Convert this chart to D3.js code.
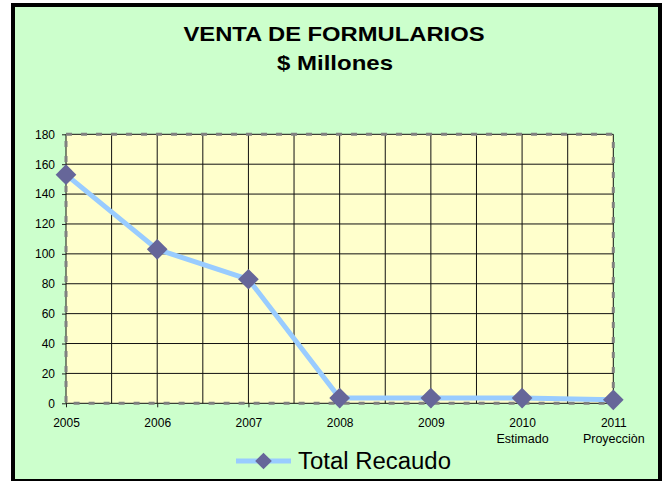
<!DOCTYPE html>
<html>
<head>
<meta charset="utf-8">
<script src="https://cdn.jsdelivr.net/npm/d3@7"></script>
<style>
  html, body { margin: 0; padding: 0; background: #ffffff; }
  svg { display: block; font-family: Arial, "Liberation Sans", sans-serif; }
</style>
</head>
<body>
<svg id="chart" width="663" height="481"></svg>
<script>
// ---- data ----
const categories = ["2005", "2006", "2007", "2008", "2009", "2010", "2011"];
const subLabels  = ["", "", "", "", "", "Estimado", "Proyecciòn"];
const totalRecaudo = [153, 103, 83, 3.5, 3.5, 3.5, 2.3];
const yTicks = [0, 20, 40, 60, 80, 100, 120, 140, 160, 180];
const titleLines = ["VENTA DE FORMULARIOS", "$ Millones"];
const seriesName = "Total Recaudo";

// ---- layout ----
const svg = d3.select("#chart");
const plot = { left: 66, right: 613.3, top: 134.3, bottom: 403.3 };

// chart frame
svg.append("rect")
  .attr("x", 13).attr("y", 5)
  .attr("width", 647).attr("height", 476)
  .attr("fill", "#CCFFCC")
  .attr("stroke", "#000").attr("stroke-width", 4);

// titles
svg.append("text").attr("x", 334).attr("y", 40.5)
  .attr("text-anchor", "middle").attr("font-size", 21).attr("font-weight", "bold")
  .attr("textLength", 301).attr("lengthAdjust", "spacingAndGlyphs")
  .text(titleLines[0]);
svg.append("text").attr("x", 335).attr("y", 69.5)
  .attr("text-anchor", "middle").attr("font-size", 21).attr("font-weight", "bold")
  .attr("textLength", 116).attr("lengthAdjust", "spacingAndGlyphs")
  .text(titleLines[1]);

// scales
const x = d3.scalePoint().domain(categories).range([plot.left, plot.right]).padding(0);
const y = d3.scaleLinear().domain([0, 180]).range([plot.bottom, plot.top]);

// plot background
svg.append("rect")
  .attr("x", plot.left).attr("y", plot.top)
  .attr("width", plot.right - plot.left).attr("height", plot.bottom - plot.top)
  .attr("fill", "#FFFFCC");

// vertical gridlines at categories and midpoints
const vPos = [];
categories.forEach((c, i) => {
  vPos.push(x(c));
  if (i < categories.length - 1) vPos.push((x(c) + x(categories[i + 1])) / 2);
});
svg.append("g").selectAll("line").data(vPos).join("line")
  .attr("x1", d => d).attr("x2", d => d)
  .attr("y1", plot.top).attr("y2", plot.bottom)
  .attr("stroke", "#111").attr("stroke-width", 1);

// horizontal gridlines
svg.append("g").selectAll("line").data(yTicks).join("line")
  .attr("x1", plot.left).attr("x2", plot.right)
  .attr("y1", d => y(d)).attr("y2", d => y(d))
  .attr("stroke", "#111").attr("stroke-width", 1);

// dashed plot border
svg.append("rect")
  .attr("x", plot.left).attr("y", plot.top)
  .attr("width", plot.right - plot.left).attr("height", plot.bottom - plot.top)
  .attr("fill", "none").attr("stroke", "#808080")
  .attr("stroke-width", 3).attr("stroke-dasharray", "6,9");

// y axis
const yAxis = d3.axisLeft(y).tickValues(yTicks).tickSize(4).tickPadding(7);
const gy = svg.append("g").attr("transform", `translate(${plot.left},0)`).call(yAxis);
gy.select(".domain").remove();
gy.selectAll(".tick line").attr("stroke", "#222");
gy.selectAll(".tick text").attr("font-size", 12).attr("fill", "#000")
  .attr("font-family", "Arial, 'Liberation Sans', sans-serif");

// x axis
const xAxis = d3.axisBottom(x).tickSize(4).tickPadding(11);
const gx = svg.append("g").attr("transform", `translate(0,${plot.bottom})`).call(xAxis);
gx.select(".domain").remove();
gx.selectAll(".tick line").attr("stroke", "#222");
gx.selectAll(".tick text").attr("font-size", 12).attr("fill", "#000")
  .attr("font-family", "Arial, 'Liberation Sans', sans-serif");
gx.selectAll(".tick").each(function(d, i) {
  if (subLabels[i]) {
    d3.select(this).append("text")
      .attr("y", 40).attr("fill", "#000")
      .attr("font-size", 12.5).attr("text-anchor", "middle")
      .attr("font-family", "Arial, 'Liberation Sans', sans-serif")
      .text(subLabels[i]);
  }
});

// series line
const line = d3.line().x((d, i) => x(categories[i])).y(d => y(d));
svg.append("path").datum(totalRecaudo)
  .attr("d", line).attr("fill", "none")
  .attr("stroke", "#99CCFF").attr("stroke-width", 5)
  .attr("stroke-linejoin", "round");

// markers
const diamond = d3.symbol().type(d3.symbolSquare).size(214);
svg.append("g").selectAll("path").data(totalRecaudo).join("path")
  .attr("d", diamond)
  .attr("transform", (d, i) => `translate(${x(categories[i])},${y(d)}) rotate(45)`)
  .attr("fill", "#666699");

// legend
const lg = svg.append("g");
lg.append("line").attr("x1", 236).attr("x2", 291).attr("y1", 461).attr("y2", 461)
  .attr("stroke", "#99CCFF").attr("stroke-width", 5);
lg.append("path").attr("d", d3.symbol().type(d3.symbolSquare).size(139))
  .attr("transform", "translate(263.5,461) rotate(45)").attr("fill", "#666699");
lg.append("text").attr("x", 298).attr("y", 469)
  .attr("font-size", 23).attr("fill", "#000")
  .attr("textLength", 153).attr("lengthAdjust", "spacingAndGlyphs")
  .text(seriesName);
</script>
</body>
</html>
